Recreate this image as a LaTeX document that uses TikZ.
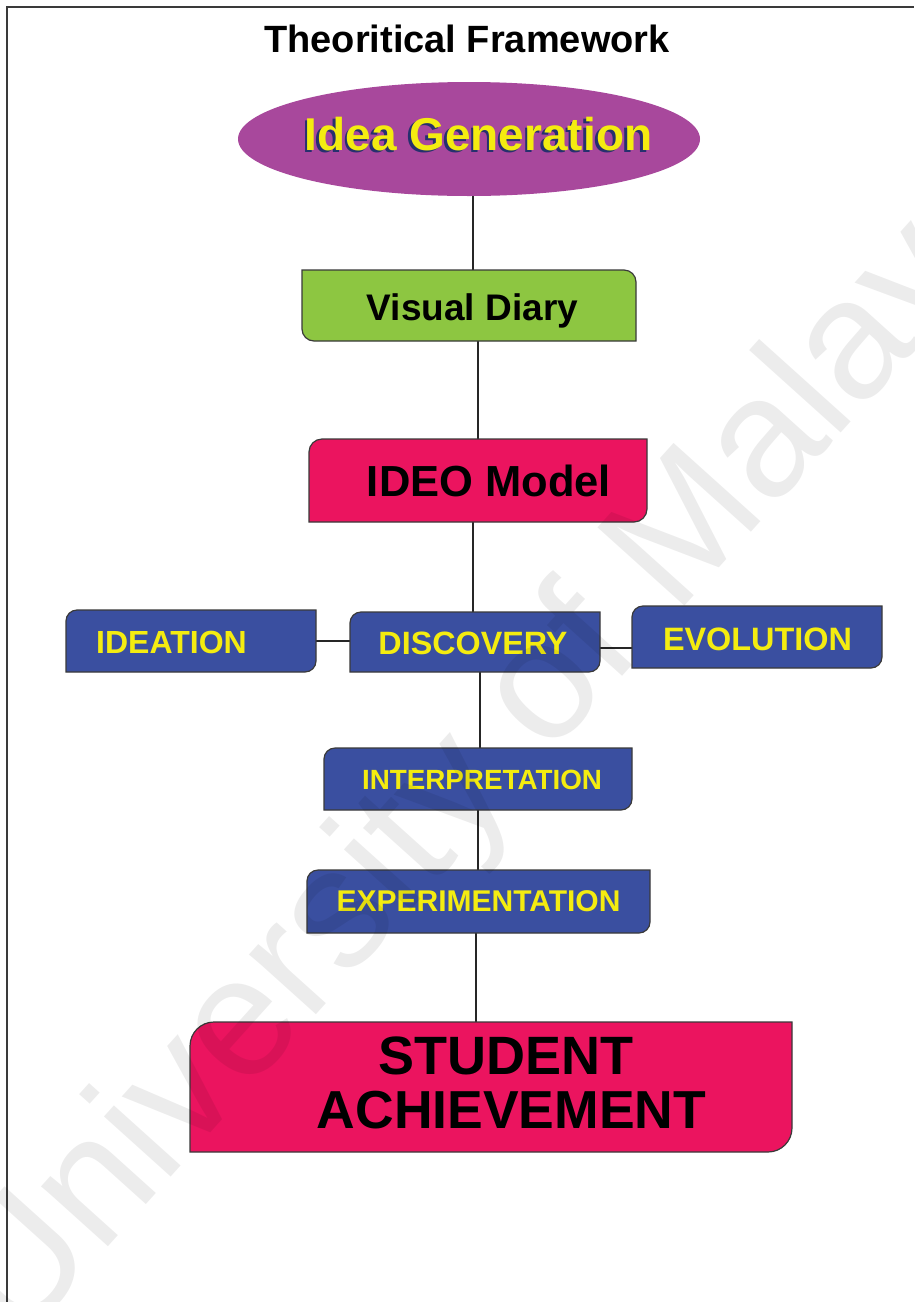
\documentclass[tikz,border=0pt]{standalone}
\usepackage{fontspec}
\setmainfont{Liberation Sans}
\usetikzlibrary{shapes.geometric,calc}
\definecolor{ellc}{HTML}{A8489C}
\definecolor{grn}{HTML}{8DC641}
\definecolor{crim}{HTML}{EB145F}
\definecolor{blu}{HTML}{3A4FA0}
\definecolor{yel}{HTML}{F4EC10}
\definecolor{shad}{HTML}{26306E}
\definecolor{edgec}{HTML}{3A3A3A}
\newcommand\fs[1]{\fontsize{#1}{#1}\selectfont\bfseries}
% diagonal rounded boxes
\newcommand\boxTLBR[3]{%
  \draw[boxline, fill=#3] ([yshift=-#2]#1.north west) arc[start angle=180,end angle=90,radius=#2]
    -- (#1.north east) -- ([yshift=#2]#1.south east) arc[start angle=0,end angle=-90,radius=#2]
    -- (#1.south west) -- cycle;}
\newcommand\boxTRBL[3]{%
  \draw[boxline, fill=#3] (#1.north west) -- ([xshift=-#2]#1.north east) arc[start angle=90,end angle=0,radius=#2]
    -- (#1.south east) -- ([xshift=#2]#1.south west) arc[start angle=270,end angle=180,radius=#2]
    -- cycle;}
\begin{document}
\begin{tikzpicture}[x=1pt,y=1pt,
  boxline/.style={draw=edgec, line width=1.2pt},
  frame/.style={draw=edgec, line width=1.8pt},
  conn/.style={draw=black!85, line width=1.2pt},
  holder/.style={shape=rectangle, inner sep=0pt, outer sep=0pt},
  lbl/.style={anchor=base, inner sep=0pt},
  ylbl/.style={lbl, text=yel},
  watermark/.style={anchor=base west, inner sep=0pt, text=black, text opacity=0.075, rotate=48, font=\fontsize{170}{170}\selectfont}
]
\useasboundingbox (0,0) rectangle (914,-1302);
\clip (0,0) rectangle (914,-1302);
\fill[white] (0,0) rectangle (914,-1302);

% frame
\draw[frame] (7,-1302) -- (7,-7) -- (914,-7);

% title
\node[lbl, font=\fs{38}] (title) at (467,-52) {Theoritical Framework};

% shape holders
\node[ellipse, fill=ellc, minimum width=462pt, minimum height=114pt, inner sep=0pt] (idea) at (469,-139) {};
\node[holder, minimum width=334pt, minimum height=71pt] (vd) at (469,-305.5) {};
\node[holder, minimum width=338pt, minimum height=83pt] (ideo) at (478,-480.5) {};
\node[holder, minimum width=250pt, minimum height=62pt] (ideation) at (191,-641) {};
\node[holder, minimum width=250pt, minimum height=60pt] (disc) at (475,-642) {};
\node[holder, minimum width=250pt, minimum height=62pt] (evol) at (757,-637) {};
\node[holder, minimum width=308pt, minimum height=62pt] (interp) at (478,-779) {};
\node[holder, minimum width=343pt, minimum height=63pt] (exper) at (478.5,-901.5) {};
\node[holder, minimum width=602pt, minimum height=130pt] (stud) at (491,-1087) {};

% connectors
\draw[conn] ([xshift=4pt]idea.south) -- ([xshift=4pt]idea.south |- vd.north);
\draw[conn] ([xshift=9pt]vd.south) -- ([xshift=9pt]vd.south |- ideo.north);
\draw[conn] ([xshift=-5pt]ideo.south) -- ([xshift=-5pt]ideo.south |- disc.north);
\draw[conn] ([xshift=5pt]disc.south) -- ([xshift=5pt]disc.south |- interp.north);
\draw[conn] (interp.south) -- (interp.south |- exper.north);
\draw[conn] ([xshift=-2.5pt]exper.south) -- ([xshift=-2.5pt]exper.south |- stud.north);
\draw[conn] (ideation.east) -- (ideation.east -| disc.west);
\draw[conn] ([yshift=-6pt]disc.east) -- ([yshift=-6pt]disc.east -| evol.west);

% boxes
\boxTRBL{vd}{12pt}{grn}
\boxTLBR{ideo}{13pt}{crim}
\boxTLBR{ideation}{11pt}{blu}
\boxTLBR{disc}{11pt}{blu}
\boxTLBR{evol}{11pt}{blu}
\boxTLBR{interp}{11pt}{blu}
\boxTLBR{exper}{11pt}{blu}
\boxTLBR{stud}{24pt}{crim}

% labels
\node[lbl, font=\fs{46}, text=shad] at (476,-152.5) {Idea Generation};
\node[ylbl, font=\fs{46}] (idealbl) at (478.5,-150) {Idea Generation};
\node[lbl, font=\fs{37}] at (472.5,-320) {Visual Diary};
\node[lbl, font=\fs{43.5}] at (489,-496) {IDEO Model};
\node[ylbl, font=\fs{32}] at (171.5,-653) {IDEATION};
\node[ylbl, font=\fs{32.3}] at (473,-654) {DISCOVERY};
\node[ylbl, font=\fs{32.4}] at (757.5,-650) {EVOLUTION};
\node[ylbl, font=\fs{27.8}] at (482,-789) {INTERPRETATION};
\node[ylbl, font=\fs{30}] at (478.5,-911) {EXPERIMENTATION};
\node[lbl, font=\fs{54}] at (506,-1074) {STUDENT};
\node[lbl, font=\fs{53.5}] at (511.5,-1128) {ACHIEVEMENT};

% watermark
\node[watermark] (wm) at (18,-1347) {University of Malaya};
\end{tikzpicture}
\end{document}
